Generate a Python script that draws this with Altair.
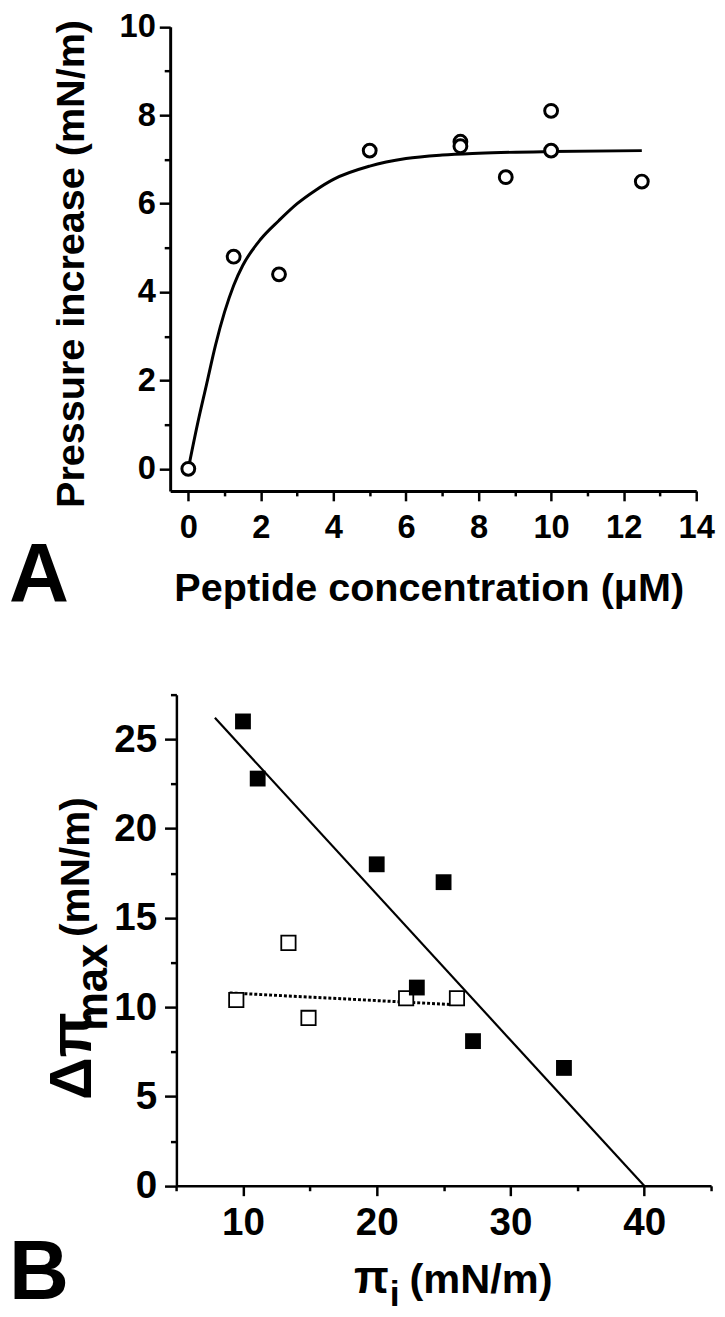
import altair as alt
import pandas as pd

FONT = "Liberation Sans"

# ---------------- Panel A data ----------------
conc = [0, 1.25, 2.5, 5, 7.5, 7.5, 8.75, 10, 10, 12.5]
pressure = [0, 4.8, 4.4, 7.2, 7.4, 7.3, 6.6, 8.1, 7.2, 6.5]
fit_conc = [0, 0.25, 0.5, 0.75, 1.0, 1.25, 1.5, 2.0, 2.5, 3.0, 3.5, 4.0, 5.0, 6.0, 7.0, 8.0, 10.0, 12.5]
fit_pressure = [0, 1.0, 1.9, 2.8, 3.55, 4.15, 4.6, 5.2, 5.62, 6.0, 6.3, 6.55, 6.85, 7.02, 7.1, 7.14, 7.18, 7.2]
a_xticks = list(range(0, 15))
a_yticks = list(range(0, 11))

# ---------------- Panel B data ----------------
pi_filled = [10, 11.1, 20, 25, 23, 27.2, 34]
dpi_filled = [26, 22.8, 18, 17, 11.1, 8.1, 6.6]
pi_open = [9.5, 13.4, 14.9, 22.2, 26]
dpi_open = [10.4, 13.6, 9.4, 10.5, 10.5]
solid_fit_x = [7.9, 40]
solid_fit_y = [26.2, 0]
dotted_fit_x = [9.0, 25.6]
dotted_fit_y = [10.8, 10.15]
b_xticks = [5, 10, 15, 20, 25, 30, 35, 40, 45]
b_yticks = [0, 2.5, 5, 7.5, 10, 12.5, 15, 17.5, 20, 22.5, 25, 27.5]

W, H = 717, 1309


def axis(orient, offset, values, test, major, minor, lsize, lpad, dw):
    return alt.Axis(
        orient=orient, offset=offset, values=values, title="",
        labelExpr=f"({test}) ? datum.label : ''",
        tickSize={"condition": {"test": test, "value": major}, "value": minor},
        tickColor="black", tickWidth=2.5, domainColor="black", domainWidth=dw,
        labelFont=FONT, labelFontSize=lsize, labelFontWeight="bold", labelColor="black",
        labelPadding=lpad, labelOverlap=False, labelFlush=False, grid=False,
    )


# Panel A scales / axes
ax_A_x = axis("bottom", -(H - 481), a_xticks, "datum.value % 2 === 0", 10, 5, 33, 11, 3)
ax_A_y = axis("left", -164, a_yticks, "datum.value % 2 === 0", 11, 6, 33, 4, 3)
sc_A_x = alt.Scale(domain=[-0.5, 14], range=[164, 696], nice=False, zero=False)
sc_A_y = alt.Scale(domain=[-0.5, 10], range=[481, 11.7], nice=False, zero=False)

curveA = alt.Chart(pd.DataFrame({"x": fit_conc, "y": fit_pressure})).mark_line(
    color="black", strokeWidth=3, interpolate="monotone"
).encode(x=alt.X("x:Q", scale=sc_A_x, axis=ax_A_x), y=alt.Y("y:Q", scale=sc_A_y, axis=ax_A_y))

pointsA = alt.Chart(pd.DataFrame({"x": conc, "y": pressure})).mark_point(
    shape="circle", filled=True, fill="white", stroke="black", strokeWidth=3, size=169, opacity=1
).encode(x=alt.X("x:Q", scale=sc_A_x, axis=ax_A_x), y=alt.Y("y:Q", scale=sc_A_y, axis=ax_A_y))

panelA = alt.layer(curveA, pointsA)

# Panel B scales / axes
ax_B_x = axis("bottom", -(H - 1183.7), b_xticks, "datum.value % 10 === 0", 10, 5, 39, 8, 2.5)
ax_B_y = axis("left", -170.3, b_yticks, "datum.value % 5 === 0", 12, 6, 39, 8, 2.5)
sc_B_x = alt.Scale(domain=[5, 45], range=[170, 711], nice=False, zero=False)
sc_B_y = alt.Scale(domain=[0, 27.5], range=[1183.7, 687], nice=False, zero=False)

encB = dict(x=alt.X("x:Q", scale=sc_B_x, axis=ax_B_x), y=alt.Y("y:Q", scale=sc_B_y, axis=ax_B_y))

solidB = alt.Chart(pd.DataFrame({"x": solid_fit_x, "y": solid_fit_y})).mark_line(
    color="black", strokeWidth=2.2).encode(**encB)
dottedB = alt.Chart(pd.DataFrame({"x": dotted_fit_x, "y": dotted_fit_y})).mark_line(
    color="black", strokeWidth=3, strokeDash=[3, 2]).encode(**encB)
filledB = alt.Chart(pd.DataFrame({"x": pi_filled, "y": dpi_filled})).mark_point(
    shape="square", filled=True, color="black", size=256, opacity=1).encode(**encB)
openB = alt.Chart(pd.DataFrame({"x": pi_open, "y": dpi_open})).mark_point(
    shape="square", filled=True, fill="white", stroke="black", strokeWidth=1.8, size=210, opacity=1
).encode(**encB)

panelB = alt.layer(solidB, dottedB, openB, filledB)


def label(text, x, y, size, align="left", angle=0):
    kw = dict(font=FONT, fontWeight="bold", fontSize=size, align=align,
              baseline="alphabetic", color="black")
    if angle:
        kw["angle"] = angle
    return alt.Chart(pd.DataFrame({"t": [text]})).mark_text(**kw).encode(
        x=alt.value(x), y=alt.value(y), text="t:N")


texts = [
    label("A", 1, 593, 84),
    label("Peptide concentration (\u03bcM)", 426, 592, 40, align="center"),
    label("Pressure increase (mN/m)", 76.5, 251.5, 40, align="center", angle=270),
    label("B", 1, 1298, 84),
    label("\u0394\u03c0", 84, 1097, 60, angle=270),
    label("max", 100, 1027, 44, angle=270),
    label("(mN/m)", 82, 932, 41, angle=270),
    label("\u03c0", 350, 1292, 46),
    label("i", 386, 1305, 36),
    label("(mN/m)", 406, 1292, 42),
]

chart = alt.layer(panelA, panelB, *texts).resolve_scale(
    x="independent", y="independent"
).properties(
    width=W, height=H, autosize=alt.AutoSizeParams(type="none"), padding=0
).configure_view(strokeWidth=0)

chart.save("out.html", embed_options={"renderer": "svg", "actions": False})
